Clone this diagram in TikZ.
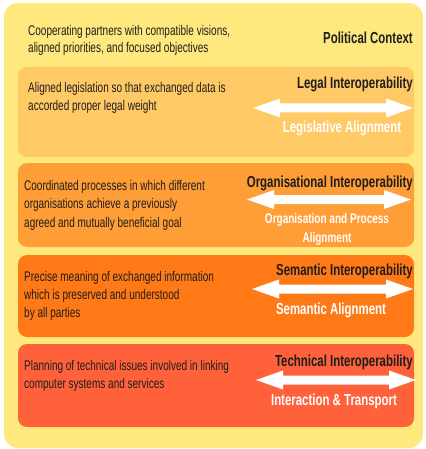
\documentclass[tikz,border=0pt]{standalone}
\usepackage{fontspec}
\setmainfont[FakeStretch=0.715]{Liberation Sans}
\definecolor{outeryellow}{HTML}{FFE97F}
\definecolor{legalcol}{HTML}{FFC966}
\definecolor{orgcol}{HTML}{FF9D36}
\definecolor{semcol}{HTML}{FF7A17}
\definecolor{techcol}{HTML}{FF613B}
\definecolor{textdark}{HTML}{1E1E1E}
\newcommand{\DblArrow}[3]{%
  \fill[white] (#1,#3) -- ({#1+27},{#3+9.5}) -- ({#1+27},{#3+4.5}) -- ({#2-27},{#3+4.5}) -- ({#2-27},{#3+9.5}) -- (#2,#3)
   -- ({#2-27},{#3-9.5}) -- ({#2-27},{#3-4.5}) -- ({#1+27},{#3-4.5}) -- ({#1+27},{#3-9.5}) -- cycle;}
\begin{document}
\begin{tikzpicture}[x=1pt,y=1pt,
  layerbox/.style={rounded corners=9pt},
  bodytext/.style={font=\fontsize{14}{16}\selectfont, text=textdark, inner sep=0pt, anchor=base west},
  headtext/.style={font=\fontsize{16}{18}\selectfont\bfseries, text=textdark, inner sep=0pt, anchor=base east},
  whitelabel/.style={font=\fontsize{16}{18}\selectfont\bfseries, text=white, inner sep=0pt, anchor=base},
  whitesmall/.style={font=\fontsize{14}{16}\selectfont\bfseries, text=white, inner sep=0pt, anchor=base}]
\useasboundingbox (0,0) rectangle (425,-449);
\fill[white] (0,0) rectangle (425,-449);
% outer political context
\fill[outeryellow, rounded corners=14pt] (4,-3) rectangle (423,-448);
% layers
\fill[legalcol, layerbox] (18,-67) rectangle (414,-157);
\fill[orgcol, layerbox] (18,-163) rectangle (414,-247);
\fill[semcol, layerbox] (18,-255) rectangle (414,-337);
\fill[techcol, layerbox] (18,-344) rectangle (414,-427);
% political
\node[bodytext] (p1) at (28,-35.5) {Cooperating partners with compatible visions,};
\node[bodytext] (p2) at (28,-53) {aligned priorities, and focused objectives};
\node[headtext] (ph) at (413,-44) {Political Context};
% legal
\node[bodytext] (l1) at (28,-93) {Aligned legislation so that exchanged data is};
\node[bodytext] (l2) at (28,-111) {accorded proper legal weight};
\node[headtext] (lh) at (413,-89) {Legal Interoperability};
\DblArrow{253}{413}{-108}
\node[whitelabel] (la) at (342,-133) {Legislative Alignment};
% organisational
\node[bodytext] (o1) at (24,-190) {Coordinated processes in which different};
\node[bodytext] (o2) at (24,-208.5) {organisations achieve a previously};
\node[bodytext] (o3) at (24,-227) {agreed and mutually beneficial goal};
\node[headtext] (oh) at (413,-187) {Organisational Interoperability};
\DblArrow{247}{411}{-199.5}
\node[whitesmall] (oa1) at (327,-223) {Organisation and Process};
\node[whitesmall] (oa2) at (327,-242) {Alignment};
% semantic
\node[bodytext] (s1) at (24,-281) {Precise meaning of exchanged information};
\node[bodytext] (s2) at (24,-299) {which is preserved and understood};
\node[bodytext] (s3) at (24,-317) {by all parties};
\node[headtext] (sh) at (413,-275) {Semantic Interoperability};
\DblArrow{252}{413}{-289}
\node[whitelabel] (sa) at (331,-314) {Semantic Alignment};
% technical
\node[bodytext] (t1) at (24,-370) {Planning of technical issues involved in linking};
\node[bodytext] (t2) at (24,-388) {computer systems and services};
\node[headtext] (th) at (413,-366) {Technical Interoperability};
\DblArrow{256}{416}{-380}
\node[whitelabel] (ta) at (334,-405) {Interaction \& Transport};
\end{tikzpicture}
\end{document}
